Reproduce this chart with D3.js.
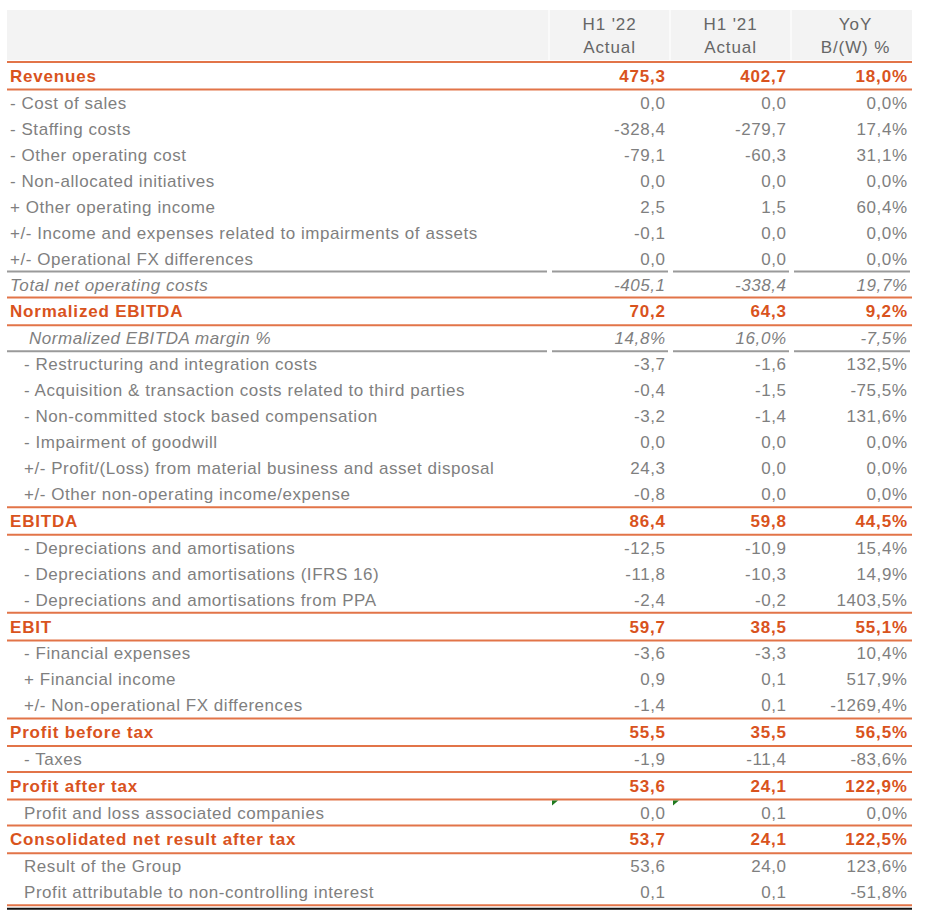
<!DOCTYPE html>
<html>
<head>
<meta charset="utf-8">
<script src="https://cdn.jsdelivr.net/npm/d3@7"></script>
<style>
  body { margin: 0; background: #fff; }
  text { font-family: "Liberation Sans", Arial, sans-serif; }
</style>
</head>
<body>
<div id="chart"></div>
<script>
// table content
var headers = [["H1 '22", "Actual"], ["H1 '21", "Actual"], ["YoY", "B/(W) %"]];

var labels = [
  "Revenues", "- Cost of sales", "- Staffing costs", "- Other operating cost",
  "- Non-allocated initiatives", "+ Other operating income",
  "+/- Income and expenses related to impairments of assets",
  "+/- Operational FX differences", "Total net operating costs",
  "Normalized EBITDA", "Normalized EBITDA margin %",
  "- Restructuring and integration costs",
  "- Acquisition & transaction costs related to third parties",
  "- Non-committed stock based compensation", "- Impairment of goodwill",
  "+/- Profit/(Loss) from material business and asset disposal",
  "+/- Other non-operating income/expense", "EBITDA",
  "- Depreciations and amortisations",
  "- Depreciations and amortisations (IFRS 16)",
  "- Depreciations and amortisations from PPA", "EBIT",
  "- Financial expenses", "+ Financial income",
  "+/- Non-operational FX differences", "Profit before tax", "- Taxes",
  "Profit after tax", "Profit and loss associated companies",
  "Consolidated net result after tax", "Result of the Group",
  "Profit attributable to non-controlling interest"
];

// t = total, i = item, ii = indented item, s = italic subtotal, m = italic margin
var kinds = ["t","i","i","i","i","i","i","i","s","t","m","ii","ii","ii","ii","ii","ii",
  "t","ii","ii","ii","t","ii","ii","ii","t","ii","t","ii","t","ii","ii"];

var h122 = [475.3, 0.0, -328.4, -79.1, 0.0, 2.5, -0.1, 0.0, -405.1, 70.2, 14.8, -3.7, -0.4,
  -3.2, 0.0, 24.3, -0.8, 86.4, -12.5, -11.8, -2.4, 59.7, -3.6, 0.9, -1.4, 55.5, -1.9,
  53.6, 0.0, 53.7, 53.6, 0.1];
var h121 = [402.7, 0.0, -279.7, -60.3, 0.0, 1.5, 0.0, 0.0, -338.4, 64.3, 16.0, -1.6, -1.5,
  -1.4, 0.0, 0.0, 0.0, 59.8, -10.9, -10.3, -0.2, 38.5, -3.3, 0.1, 0.1, 35.5, -11.4,
  24.1, 0.1, 24.1, 24.0, 0.1];
var yoy = [18.0, 0.0, 17.4, 31.1, 0.0, 60.4, 0.0, 0.0, 19.7, 9.2, -7.5, 132.5, -75.5,
  131.6, 0.0, 0.0, 0.0, 44.5, 15.4, 14.9, 1403.5, 55.1, 10.4, 517.9, -1269.4, 56.5,
  -83.6, 122.9, 0.0, 122.5, 123.6, -51.8];

// cells carrying a green comment marker: [row, column]
var flagged = [[28, 0], [28, 1]];

var width = 928, height = 922;
var orange = "#d9531d", orangeLine = "#e27448", grey = "#7f7f7f", greyLine = "#9a9a9a";

var loc = d3.formatLocale({decimal: ",", thousands: ".", grouping: [3], currency: ["", ""], minus: "-"});
var fmt = loc.format(".1f");

var rows = labels.map(function(d, i) {
  var isPct = kinds[i] === "m";
  return {
    label: d, kind: kinds[i],
    cells: [
      fmt(h122[i]) + (isPct ? "%" : ""),
      fmt(h121[i]) + (isPct ? "%" : ""),
      fmt(yoy[i]) + "%"
    ]
  };
});

// row geometry: totals are slightly taller
var top0 = 62, rowH = 26, totH = 27.6;
var y = 0;
rows.forEach(function(r) {
  r.h = r.kind === "t" ? totH : rowH;
  r.y0 = top0 + y;
  y += r.h;
  r.y1 = top0 + y;
});
var tableBottom = top0 + y;

var left = 7, right = 912;
var x = d3.scaleBand().domain([0, 1, 2]).range([549, right]);

function spacing(k) { return k === "t" ? 0.8 : 0.55; }

var svg = d3.select("#chart").append("svg")
  .attr("width", width).attr("height", height);

// header band
svg.append("rect")
  .attr("x", left).attr("y", 10)
  .attr("width", right - left).attr("height", 50)
  .attr("fill", "#f3f3f3");
svg.selectAll(".hsep").data([0, 1, 2]).enter().append("line")
  .attr("x1", function(d) { return x(d); }).attr("x2", function(d) { return x(d); })
  .attr("y1", 10).attr("y2", 60)
  .attr("stroke", "#fafafa").attr("stroke-width", 2);

var head = svg.selectAll(".head").data(headers).enter().append("g");
head.selectAll("text").data(function(d, i) { return d.map(function(t) { return {t: t, c: i}; }); })
  .enter().append("text")
  .attr("x", function(d) { return x(d.c) + x.bandwidth() / 2 + (d.c === 2 ? 4 : 0); })
  .attr("y", function(d, j) { return 30 + j * 23; })
  .attr("text-anchor", "middle")
  .attr("font-size", 17)
  .attr("letter-spacing", 0.9)
  .attr("fill", "#666")
  .text(function(d) { return d.t; });

// rows
var rowG = svg.selectAll(".row").data(rows).enter().append("g").attr("class", "row");

function indent(k) {
  if (k === "ii") return 24;
  if (k === "m") return 29;
  return 10;
}

rowG.append("text")
  .attr("x", function(d) { return indent(d.kind); })
  .attr("y", function(d) { return (d.y0 + d.y1) / 2 + 6; })
  .attr("font-size", 17)
  .attr("font-weight", function(d) { return d.kind === "t" ? "bold" : "normal"; })
  .attr("font-style", function(d) { return d.kind === "s" || d.kind === "m" ? "italic" : "normal"; })
  .attr("letter-spacing", function(d) { return spacing(d.kind); })
  .attr("fill", function(d) { return d.kind === "t" ? orange : grey; })
  .text(function(d) { return d.label; });

rowG.selectAll(".num").data(function(d) {
    return d.cells.map(function(c, j) { return {v: c, c: j, r: d}; });
  })
  .enter().append("text")
  .attr("class", "num")
  .attr("x", function(d) { return x(d.c) + x.bandwidth() - 5 + spacing(d.r.kind); })
  .attr("y", function(d) { return (d.r.y0 + d.r.y1) / 2 + 6; })
  .attr("text-anchor", "end")
  .attr("font-size", 17)
  .attr("font-weight", function(d) { return d.r.kind === "t" ? "bold" : "normal"; })
  .attr("font-style", function(d) { return d.r.kind === "s" || d.r.kind === "m" ? "italic" : "normal"; })
  .attr("letter-spacing", function(d) { return spacing(d.r.kind); })
  .attr("fill", function(d) { return d.r.kind === "t" ? orange : grey; })
  .text(function(d) { return d.v; });

// orange rules around totals
var orangeY = [];
rows.forEach(function(r) {
  if (r.kind === "t") { orangeY.push(r.y0, r.y1); }
});
orangeY.push(tableBottom);
orangeY = Array.from(new Set(orangeY.map(function(v) { return Math.round(v * 10) / 10; })));

svg.selectAll(".orule").data(orangeY).enter().append("line")
  .attr("x1", left).attr("x2", right)
  .attr("y1", function(d) { return d; }).attr("y2", function(d) { return d; })
  .attr("stroke", orangeLine).attr("stroke-width", 2);

svg.append("line")
  .attr("x1", left).attr("x2", right)
  .attr("y1", tableBottom + 3.5).attr("y2", tableBottom + 3.5)
  .attr("stroke", "#111").attr("stroke-width", 2);

// grey rules around italic subtotal / margin rows, broken per column
var greyY = [];
rows.forEach(function(r) {
  if (r.kind === "s") greyY.push(r.y0);
  if (r.kind === "m") greyY.push(r.y1);
});
var segs = [[left, x(0) - 2]].concat([0, 1, 2].map(function(c) {
  return [x(c) + 3, x(c) + x.bandwidth() - 2];
}));
greyY.forEach(function(gy) {
  svg.selectAll(null).data(segs).enter().append("line")
    .attr("x1", function(d) { return d[0]; }).attr("x2", function(d) { return d[1]; })
    .attr("y1", gy).attr("y2", gy)
    .attr("stroke", greyLine).attr("stroke-width", 2);
});

// excel comment markers
svg.selectAll(".flag").data(flagged).enter().append("path")
  .attr("d", function(d) {
    var px = x(d[1]) + 3, py = rows[d[0]].y0 + 1;
    return "M" + px + "," + py + "h6l-6,5z";
  })
  .attr("fill", "#1f7a1f");
</script>
</body>
</html>
